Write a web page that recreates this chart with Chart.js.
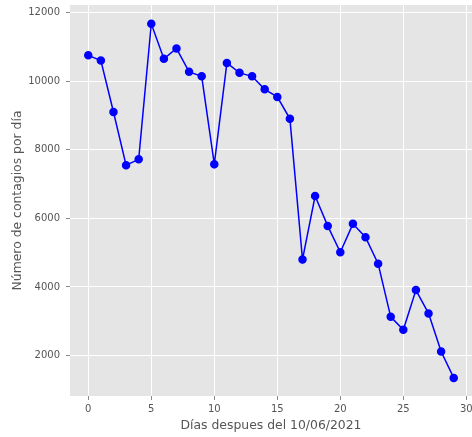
<!DOCTYPE html>
<html><head><meta charset="utf-8">
<script src="https://cdn.jsdelivr.net/npm/chart.js@4/dist/chart.umd.min.js"></script>
<style>html,body{margin:0;padding:0;background:#fff}#w{width:472px;height:437px}</style>
</head><body><div id="w"><canvas id="c"></canvas></div>
<script>
const days = [0,1,2,3,4,5,6,7,8,9,10,11,12,13,14,15,16,17,18,19,20,21,22,23,24,25,26,27,28,29];
const cases = [10750,10600,9100,7550,7720,11670,10650,10950,10270,10140,7580,10530,10240,10140,9760,9540,8900,4800,6650,5780,5010,5840,5450,4680,3130,2750,3910,3230,2120,1350];
const xTicks = [0,5,10,15,20,25,30];
const yTicks = [2000,4000,6000,8000,10000,12000];
const xLabel = 'Días despues del 10/06/2021';
const yLabel = 'Número de contagios por día';

const bg = {id:'bg',beforeDraw(ch){const a=ch.chartArea,c=ch.ctx;c.save();c.fillStyle='#E5E5E5';c.fillRect(a.left,a.top,a.right-a.left,a.bottom-a.top);c.restore();}};
Chart.defaults.font.family = 'DejaVu Sans';
new Chart(document.getElementById('c'),{
  type:'line',
  data:{datasets:[{data:days.map((d,i)=>({x:d,y:cases[i]})),borderColor:'#0000FF',backgroundColor:'#0000FF',borderWidth:1.5,pointRadius:3.5,pointHoverRadius:3.5,tension:0,clip:false}]},
  options:{
    responsive:true,maintainAspectRatio:false,animation:false,
    layout:{autoPadding:false,padding:{top:5,right:0,left:0,bottom:0}},
    plugins:{legend:{display:false},tooltip:{enabled:false}},
    scales:{
      x:{type:'linear',min:-1.45,max:30.45,
        afterBuildTicks:s=>{s.ticks=xTicks.map(v=>({value:v}));},
        afterFit:s=>{s.height=41;s.paddingLeft=0;s.paddingRight=0;},
        grid:{color:'#FFFFFF',lineWidth:1,tickColor:'#888',tickLength:4},
        border:{display:false},
        ticks:{color:'#555',font:{size:10},padding:3,maxRotation:0,callback:v=>String(v)},
        title:{display:true,text:xLabel,color:'#555',font:{size:12.4},padding:{top:0,bottom:4}}},
      y:{type:'linear',min:822,max:12218,
        afterBuildTicks:s=>{s.ticks=yTicks.map(v=>({value:v}));},
        afterFit:s=>{s.width=70;s.paddingTop=0;s.paddingBottom=0;},
        grid:{color:'#FFFFFF',lineWidth:1,tickColor:'#888',tickLength:4},
        border:{display:false},
        ticks:{color:'#555',font:{size:10},padding:6,callback:v=>String(v)},
        title:{display:true,text:yLabel,color:'#555',font:{size:12.4},padding:{top:10,bottom:0}}}
    }
  },
  plugins:[bg]
});
</script></body></html>
